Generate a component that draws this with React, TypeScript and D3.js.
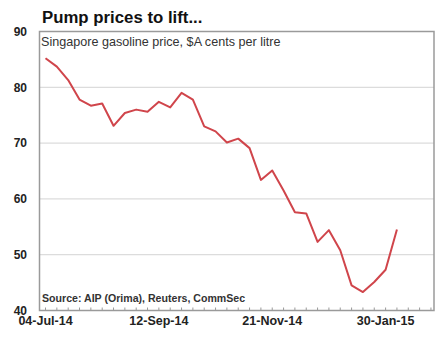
import React from "react";
import * as d3 from "d3";

const weekIndex = [0,1,2,3,4,5,6,7,8,9,10,11,12,13,14,15,16,17,18,19,20,21,22,23,24,25,26,27,28,29,30,31];
const prices = [85.2,83.7,81.3,77.8,76.7,77.1,73.1,75.4,76.0,75.6,77.4,76.4,79.0,77.8,73.0,72.1,70.1,70.8,69.1,63.4,65.1,61.5,57.6,57.4,52.3,54.4,50.8,44.5,43.3,45.1,47.3,54.5];
const yTicks = [40,50,60,70,80,90];
const xTickWeeks = [0,10,20,30];
const xTickLabels = ["04-Jul-14","12-Sep-14","21-Nov-14","30-Jan-15"];
const minorTicks = d3.range(0, 35);

const title = "Pump prices to lift...";
const subtitle = "Singapore gasoline price, $A cents per litre";
const source = "Source: AIP (Orima), Reuters, CommSec";

export default function App() {
  const W = 446, H = 341;
  const left = 39.5, right = 434, top = 31.5, bottom = 310.5;
  const x = d3.scaleLinear().domain([-0.53, 34.27]).range([left, right]);
  const y = d3.scaleLinear().domain([40, 90]).range([bottom, top]);
  const line = d3.line<number>().x((_, i) => x(weekIndex[i])).y((d) => y(d));
  const font = "'Liberation Sans', Arial, sans-serif";
  return (
    <svg width={W} height={H} style={{ position: "absolute", left: 0, top: 0, background: "#fff" }} fontFamily={font}>
      <rect x={0} y={0} width={W} height={H} fill="#fff" />
      <text x={42} y={23} fontSize={16.8} fontWeight="bold" fill="#111">{title}</text>
      {yTicks.filter(t => t > 40 && t < 90).map(t => (
        <line key={t} x1={left} x2={right} y1={y(t)} y2={y(t)} stroke="#dcdcdc" strokeWidth={1.2} />
      ))}
      <rect x={left} y={top} width={right - left} height={bottom - top} fill="none" stroke="#9a9a9a" strokeWidth={1.5} />
      {minorTicks.map(t => (
        <line key={t} x1={x(t)} x2={x(t)} y1={bottom} y2={bottom - 3} stroke="#9a9a9a" strokeWidth={1} />
      ))}
      {yTicks.map(t => (
        <text key={t} x={27} y={y(t)} dy="0.36em" textAnchor="end" fontSize={12} fontWeight="bold" fill="#222">{t}</text>
      ))}
      {xTickWeeks.map((w, i) => (
        <text key={w} x={x(w)} y={325} textAnchor="middle" fontSize={12.5} fontWeight="bold" fill="#222">{xTickLabels[i]}</text>
      ))}
      <text x={41} y={46} fontSize={12.6} fill="#333">{subtitle}</text>
      <text x={42} y={302} fontSize={10.6} fontWeight="bold" fill="#333">{source}</text>
      <path d={line(prices) || ""} fill="none" stroke="#d0454b" strokeWidth={2} strokeLinejoin="round" />
    </svg>
  );
}
